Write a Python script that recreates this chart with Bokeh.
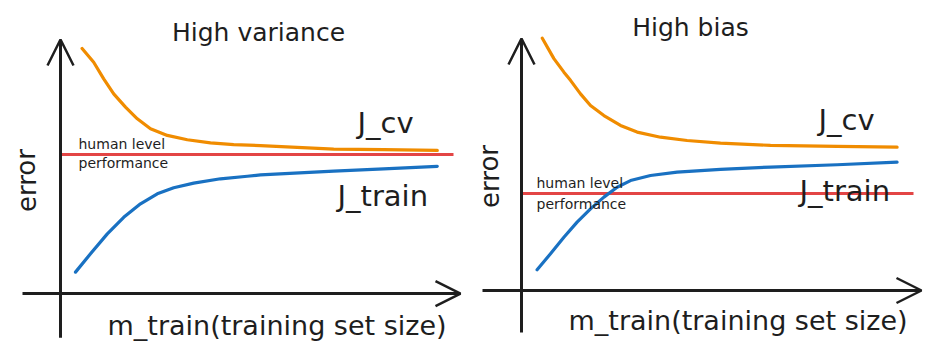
from bokeh.plotting import figure
from bokeh.layouts import row
from bokeh.models import Range1d, Arrow, OpenHead, Label
from bokeh.embed import file_html
from bokeh.resources import INLINE

# ---------------- data (m_train 0..100, error 0..100) ----------------
# High variance panel
hv_cv_x = [5.4, 8.3, 10.8, 13.3, 16.25, 19.2, 22.5, 26.7, 31.7, 37.5, 43.3, 50.0, 68.3, 80.8, 94.2]
hv_cv_y = [96.1, 90.7, 84.2, 78.3, 73.1, 68.5, 64.6, 62.0, 60.3, 59.1, 58.4, 58.0, 56.6, 56.4, 56.1]
hv_tr_x = [3.75, 7.5, 11.7, 15.8, 20.0, 24.2, 28.3, 33.3, 40.0, 46.7, 50.0, 68.3, 80.8, 94.2]
hv_tr_y = [8.4, 15.6, 23.4, 29.9, 35.2, 39.1, 41.5, 43.3, 45.0, 46.0, 46.5, 48.0, 48.9, 49.9]
hv_human = 54.5

# High bias panel
hb_cv_x = [5.2, 8.1, 10.6, 12.25, 14.75, 17.25, 20.6, 24.75, 28.9, 34.75, 41.4, 49.75, 62.25, 78.9, 93.9]
hb_cv_y = [98.9, 90.9, 85.6, 82.4, 77.1, 72.5, 68.6, 64.7, 62.1, 60.1, 58.8, 57.8, 56.9, 56.5, 56.2]
hb_tr_x = [3.9, 7.25, 10.6, 13.9, 17.25, 20.6, 23.9, 27.25, 32.25, 38.9, 49.75, 62.25, 78.9, 93.9]
hb_tr_y = [8.1, 14.4, 20.9, 26.8, 32.0, 36.6, 40.5, 43.1, 45.1, 46.4, 47.5, 48.4, 49.3, 50.3]
hb_human = 38.0

titles = ["High variance", "High bias"]
x_label = "m_train(training set size)"
y_label = "error"
cv_label = "J_cv"
train_label = "J_train"
human_label = ["human level", "performance"]

INK = "#1e1e1e"
ORANGE = "#f08c00"
BLUE = "#1971c2"
RED = "#e03131"
FONT = "DejaVu Sans"


def panel(width, xr, yr, cv_x, cv_y, tr_x, tr_y, human, human_x_end,
          title, title_pos, cv_pos, tr_pos, hum_pos, err_pos, xl_pos,
          yaxis_span, xaxis_span):
    p = figure(width=width, height=353, output_backend="svg", toolbar_location=None,
               x_range=Range1d(*xr), y_range=Range1d(*yr),
               min_border=0, min_border_left=0, min_border_right=0,
               min_border_top=0, min_border_bottom=0,
               x_axis_location=None, y_axis_location=None)
    p.grid.visible = False
    p.outline_line_color = None
    p.background_fill_color = "white"
    p.border_fill_color = "white"

    # axes with open arrowheads
    p.add_layout(Arrow(end=OpenHead(size=26, line_color=INK, line_width=2.5),
                       x_start=0, y_start=yaxis_span[0], x_end=0, y_end=yaxis_span[1],
                       line_color=INK, line_width=3))
    p.add_layout(Arrow(end=OpenHead(size=25, line_color=INK, line_width=2.5),
                       x_start=xaxis_span[0], y_start=0, x_end=xaxis_span[1], y_end=0,
                       line_color=INK, line_width=3))

    # human level performance
    p.line([0, human_x_end], [human, human], line_color=RED, line_width=3, line_alpha=0.9)
    # curves
    p.line(cv_x, cv_y, line_color=ORANGE, line_width=3.2, line_cap="round", line_join="round")
    p.line(tr_x, tr_y, line_color=BLUE, line_width=3.2, line_cap="round", line_join="round")

    def lab(text, x, y, size, align="left", angle=0):
        p.add_layout(Label(x=x, y=y, text=text, text_font=FONT, text_font_size=size,
                           text_color=INK, text_align=align, text_baseline="middle",
                           angle=angle))

    lab(title, title_pos[0], title_pos[1], "25px", "center")
    lab(cv_label, cv_pos[0], cv_pos[1], "29px")
    lab(train_label, tr_pos[0], tr_pos[1], "29px")
    lab(human_label[0], hum_pos[0], hum_pos[1], "14px")
    lab(human_label[1], hum_pos[0], hum_pos[2], "14px")
    lab(y_label, err_pos[0], err_pos[1], "26px", "center", angle=1.5708)
    lab(x_label, xl_pos[0], xl_pos[1], "27px")
    return p


left = panel(466, (-15.0, 101.5), (-23.5, 114.9), hv_cv_x, hv_cv_y, hv_tr_x, hv_tr_y,
             hv_human, 98.25, titles[0], (49.5, 102.4), (74.25, 66.7), (69.25, 38.4),
             (4.5, 58.8, 51.0), (-8.5, 44.3), (11.75, -12.5), (-17.3, 99.6), (-9.5, 100.0))
right = panel(467, (-13.75, 103.0), (-24.7, 113.7), hb_cv_x, hb_cv_y, hb_tr_x, hb_tr_y,
              hb_human, 98.0, titles[1], (42.25, 103.1), (74.25, 66.7), (69.5, 39.2),
              (3.75, 42.0, 34.1), (-8.0, 44.7), (11.75, -11.8), (-16.5, 98.8), (-9.75, 100.0))

layout = row(left, right, spacing=0)
open("out.html", "w").write(file_html(layout, INLINE))
